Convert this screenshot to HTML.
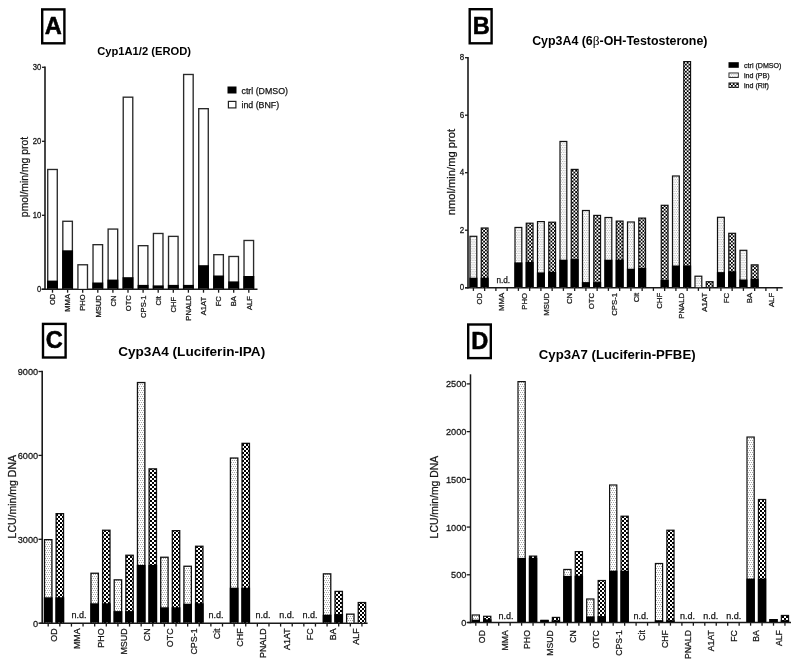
<!DOCTYPE html>
<html><head><meta charset="utf-8"><style>
html,body{margin:0;padding:0;background:#fff;width:800px;height:667px;overflow:hidden}
svg{display:block;will-change:transform}
text{font-family:"Liberation Sans",sans-serif}
text.r{stroke:#151515;stroke-width:0.25px}
</style></head><body>
<svg width="800" height="667" viewBox="0 0 800 667">
<rect width="800" height="667" fill="#fff"/>
<defs>
<pattern id="pb" patternUnits="userSpaceOnUse" width="1.77" height="3.54">
<rect width="1.77" height="3.54" fill="#fff"/><rect width="0.9" height="0.9" fill="#b0b0b0"/><rect x="0.88" y="1.77" width="0.9" height="0.9" fill="#b0b0b0"/>
</pattern>
<pattern id="rif" patternUnits="userSpaceOnUse" width="3.54" height="3.54">
<rect width="3.54" height="3.54" fill="#000"/>
<rect width="1.77" height="1.77" fill="#fff"/>
<rect x="1.77" y="1.77" width="1.77" height="1.77" fill="#fff"/>
</pattern>
<pattern id="pbc" patternUnits="userSpaceOnUse" width="2" height="4">
<rect width="2" height="4" fill="#fff"/><rect width="1" height="1" fill="#a8a8a8"/><rect x="1" y="2" width="1" height="1" fill="#a8a8a8"/>
</pattern>
<pattern id="rifc" patternUnits="userSpaceOnUse" width="4" height="4">
<rect width="4" height="4" fill="#000"/>
<rect width="2" height="2" fill="#fff"/>
<rect x="2" y="2" width="2" height="2" fill="#fff"/>
</pattern>
</defs>
<rect x="41" y="8.2" width="24.6" height="36.3" fill="#000"/>
<rect x="43.4" y="10.6" width="19.8" height="31.5" fill="#fff"/>
<text x="53.3" y="33.7" font-size="23.6" text-anchor="middle" font-weight="bold" fill="#000" stroke="#000" stroke-width="0.55" stroke-linejoin="round">A</text>
<text x="144.1" y="54.6" font-size="11.2" text-anchor="middle" font-weight="bold" fill="#000">Cyp1A1/2 (EROD)</text>
<line x1="45" y1="66.55" x2="45" y2="290.05" stroke="#1a1a1a" stroke-width="1.6"/>
<line x1="41.5" y1="289.3" x2="257.5" y2="289.3" stroke="#1a1a1a" stroke-width="1.6"/>
<line x1="42" y1="289.3" x2="45" y2="289.3" stroke="#1a1a1a" stroke-width="1.3"/>
<text transform="translate(41.2,292.2) scale(1,1.07)" font-size="7.7" text-anchor="end" font-weight="normal" fill="#151515" class="r">0</text>
<line x1="42" y1="215.3" x2="45" y2="215.3" stroke="#1a1a1a" stroke-width="1.3"/>
<text transform="translate(41.2,218.2) scale(1,1.07)" font-size="7.7" text-anchor="end" font-weight="normal" fill="#151515" class="r">10</text>
<line x1="42" y1="141.3" x2="45" y2="141.3" stroke="#1a1a1a" stroke-width="1.3"/>
<text transform="translate(41.2,144.2) scale(1,1.07)" font-size="7.7" text-anchor="end" font-weight="normal" fill="#151515" class="r">20</text>
<line x1="42" y1="67.3" x2="45" y2="67.3" stroke="#1a1a1a" stroke-width="1.3"/>
<text transform="translate(41.2,70.2) scale(1,1.07)" font-size="7.7" text-anchor="end" font-weight="normal" fill="#151515" class="r">30</text>
<text transform="translate(28.3,177) rotate(-90)" font-size="10.4" text-anchor="middle" font-weight="normal" fill="#151515" class="r">pmol/min/mg prot</text>
<rect x="47.05" y="168.8" width="10.9" height="120" fill="#2a2a2a"/>
<rect x="48.4" y="170.15" width="8.2" height="118.65" fill="#fff"/>
<rect x="47.05" y="280.6" width="10.9" height="8.2" fill="#000"/>
<line x1="52.5" y1="289.3" x2="52.5" y2="292.7" stroke="#1a1a1a" stroke-width="1.3"/>
<text transform="translate(55.2,293.65) rotate(-90)" font-size="7.6" text-anchor="end" font-weight="normal" fill="#151515" class="r">OD</text>
<rect x="62.15" y="220.6" width="10.9" height="68.2" fill="#2a2a2a"/>
<rect x="63.5" y="221.95" width="8.2" height="66.85" fill="#fff"/>
<rect x="62.15" y="250.3" width="10.9" height="38.5" fill="#000"/>
<line x1="67.6" y1="289.3" x2="67.6" y2="292.7" stroke="#1a1a1a" stroke-width="1.3"/>
<text transform="translate(70.3,294) rotate(-90)" font-size="7.6" text-anchor="end" font-weight="normal" fill="#151515" class="r">MMA</text>
<rect x="77.25" y="264.1" width="10.9" height="24.7" fill="#2a2a2a"/>
<rect x="78.6" y="265.45" width="8.2" height="23.35" fill="#fff"/>
<line x1="82.7" y1="289.3" x2="82.7" y2="292.7" stroke="#1a1a1a" stroke-width="1.3"/>
<text transform="translate(85.4,294.3) rotate(-90)" font-size="7.6" text-anchor="end" font-weight="normal" fill="#151515" class="r">PHO</text>
<rect x="92.35" y="244" width="10.9" height="44.8" fill="#2a2a2a"/>
<rect x="93.7" y="245.35" width="8.2" height="43.45" fill="#fff"/>
<rect x="92.35" y="282.5" width="10.9" height="6.3" fill="#000"/>
<line x1="97.8" y1="289.3" x2="97.8" y2="292.7" stroke="#1a1a1a" stroke-width="1.3"/>
<text transform="translate(100.5,295.2) rotate(-90)" font-size="7.6" text-anchor="end" font-weight="normal" fill="#151515" class="r">MSUD</text>
<rect x="107.45" y="228.4" width="10.9" height="60.4" fill="#2a2a2a"/>
<rect x="108.8" y="229.75" width="8.2" height="59.05" fill="#fff"/>
<rect x="107.45" y="279.6" width="10.9" height="9.2" fill="#000"/>
<line x1="112.9" y1="289.3" x2="112.9" y2="292.7" stroke="#1a1a1a" stroke-width="1.3"/>
<text transform="translate(115.6,295.5) rotate(-90)" font-size="7.6" text-anchor="end" font-weight="normal" fill="#151515" class="r">CN</text>
<rect x="122.55" y="96.5" width="10.9" height="192.3" fill="#2a2a2a"/>
<rect x="123.9" y="97.85" width="8.2" height="190.95" fill="#fff"/>
<rect x="122.55" y="277.2" width="10.9" height="11.6" fill="#000"/>
<line x1="128" y1="289.3" x2="128" y2="292.7" stroke="#1a1a1a" stroke-width="1.3"/>
<text transform="translate(130.7,295.2) rotate(-90)" font-size="7.6" text-anchor="end" font-weight="normal" fill="#151515" class="r">OTC</text>
<rect x="137.65" y="245" width="10.9" height="43.8" fill="#2a2a2a"/>
<rect x="139" y="246.35" width="8.2" height="42.45" fill="#fff"/>
<rect x="137.65" y="284.9" width="10.9" height="3.9" fill="#000"/>
<line x1="143.1" y1="289.3" x2="143.1" y2="292.7" stroke="#1a1a1a" stroke-width="1.3"/>
<text transform="translate(145.8,295.5) rotate(-90)" font-size="7.6" text-anchor="end" font-weight="normal" fill="#151515" class="r">CPS-1</text>
<rect x="152.75" y="232.8" width="10.9" height="56" fill="#2a2a2a"/>
<rect x="154.1" y="234.15" width="8.2" height="54.65" fill="#fff"/>
<rect x="152.75" y="285.4" width="10.9" height="3.4" fill="#000"/>
<line x1="158.2" y1="289.3" x2="158.2" y2="292.7" stroke="#1a1a1a" stroke-width="1.3"/>
<text transform="translate(160.9,296.15) rotate(-90)" font-size="7.6" text-anchor="end" font-weight="normal" fill="#151515" class="r">Cit</text>
<rect x="167.85" y="235.7" width="10.9" height="53.1" fill="#2a2a2a"/>
<rect x="169.2" y="237.05" width="8.2" height="51.75" fill="#fff"/>
<rect x="167.85" y="284.9" width="10.9" height="3.9" fill="#000"/>
<line x1="173.3" y1="289.3" x2="173.3" y2="292.7" stroke="#1a1a1a" stroke-width="1.3"/>
<text transform="translate(176,296.8) rotate(-90)" font-size="7.6" text-anchor="end" font-weight="normal" fill="#151515" class="r">CHF</text>
<rect x="182.95" y="73.8" width="10.9" height="215" fill="#2a2a2a"/>
<rect x="184.3" y="75.15" width="8.2" height="213.65" fill="#fff"/>
<rect x="182.95" y="284.9" width="10.9" height="3.9" fill="#000"/>
<line x1="188.4" y1="289.3" x2="188.4" y2="292.7" stroke="#1a1a1a" stroke-width="1.3"/>
<text transform="translate(191.1,295.3) rotate(-90)" font-size="7.6" text-anchor="end" font-weight="normal" fill="#151515" class="r">PNALD</text>
<rect x="198.05" y="108" width="10.9" height="180.8" fill="#2a2a2a"/>
<rect x="199.4" y="109.35" width="8.2" height="179.45" fill="#fff"/>
<rect x="198.05" y="265.2" width="10.9" height="23.6" fill="#000"/>
<line x1="203.5" y1="289.3" x2="203.5" y2="292.7" stroke="#1a1a1a" stroke-width="1.3"/>
<text transform="translate(206.2,296.8) rotate(-90)" font-size="7.6" text-anchor="end" font-weight="normal" fill="#151515" class="r">A1AT</text>
<rect x="213.15" y="254" width="10.9" height="34.8" fill="#2a2a2a"/>
<rect x="214.5" y="255.35" width="8.2" height="33.45" fill="#fff"/>
<rect x="213.15" y="275.5" width="10.9" height="13.3" fill="#000"/>
<line x1="218.6" y1="289.3" x2="218.6" y2="292.7" stroke="#1a1a1a" stroke-width="1.3"/>
<text transform="translate(221.3,296.15) rotate(-90)" font-size="7.6" text-anchor="end" font-weight="normal" fill="#151515" class="r">FC</text>
<rect x="228.25" y="255.8" width="10.9" height="33" fill="#2a2a2a"/>
<rect x="229.6" y="257.15" width="8.2" height="31.65" fill="#fff"/>
<rect x="228.25" y="281.4" width="10.9" height="7.4" fill="#000"/>
<line x1="233.7" y1="289.3" x2="233.7" y2="292.7" stroke="#1a1a1a" stroke-width="1.3"/>
<text transform="translate(236.4,296.15) rotate(-90)" font-size="7.6" text-anchor="end" font-weight="normal" fill="#151515" class="r">BA</text>
<rect x="243.35" y="239.8" width="10.9" height="49" fill="#2a2a2a"/>
<rect x="244.7" y="241.15" width="8.2" height="47.65" fill="#fff"/>
<rect x="243.35" y="276" width="10.9" height="12.8" fill="#000"/>
<line x1="248.8" y1="289.3" x2="248.8" y2="292.7" stroke="#1a1a1a" stroke-width="1.3"/>
<text transform="translate(251.5,296.15) rotate(-90)" font-size="7.6" text-anchor="end" font-weight="normal" fill="#151515" class="r">ALF</text>
<rect x="227.5" y="86.5" width="9" height="7" fill="#000"/>
<rect x="227.8" y="100.8" width="8.7" height="7.7" fill="#222"/>
<rect x="229" y="102" width="6.3" height="5.3" fill="#fff"/>
<text x="241.5" y="93.6" font-size="8.8" text-anchor="start" font-weight="normal" fill="#151515" class="r">ctrl (DMSO)</text>
<text x="241.5" y="108.2" font-size="8.8" text-anchor="start" font-weight="normal" fill="#151515" class="r">ind (BNF)</text>
<rect x="468.5" y="8" width="24.3" height="36.5" fill="#000"/>
<rect x="470.9" y="10.4" width="19.5" height="31.7" fill="#fff"/>
<text x="481.3" y="33.7" font-size="23.6" text-anchor="middle" font-weight="bold" fill="#000" stroke="#000" stroke-width="0.55" stroke-linejoin="round">B</text>
<text x="619.8" y="45.2" font-size="12.4" text-anchor="middle" font-weight="bold" fill="#000">Cyp3A4 (6<tspan font-weight="normal" font-family="Liberation Serif" font-size="13.4">&#946;</tspan>-OH-Testosterone)</text>
<line x1="468" y1="56.95" x2="468" y2="288.45" stroke="#1a1a1a" stroke-width="1.6"/>
<line x1="465" y1="287.7" x2="782.7" y2="287.7" stroke="#1a1a1a" stroke-width="1.6"/>
<line x1="465" y1="287.7" x2="468" y2="287.7" stroke="#1a1a1a" stroke-width="1.3"/>
<text transform="translate(464.3,290.4) scale(1,1.08)" font-size="8" text-anchor="end" font-weight="normal" fill="#151515" class="r">0</text>
<line x1="465" y1="230.2" x2="468" y2="230.2" stroke="#1a1a1a" stroke-width="1.3"/>
<text transform="translate(464.3,232.9) scale(1,1.08)" font-size="8" text-anchor="end" font-weight="normal" fill="#151515" class="r">2</text>
<line x1="465" y1="172.7" x2="468" y2="172.7" stroke="#1a1a1a" stroke-width="1.3"/>
<text transform="translate(464.3,175.4) scale(1,1.08)" font-size="8" text-anchor="end" font-weight="normal" fill="#151515" class="r">4</text>
<line x1="465" y1="115.2" x2="468" y2="115.2" stroke="#1a1a1a" stroke-width="1.3"/>
<text transform="translate(464.3,117.9) scale(1,1.08)" font-size="8" text-anchor="end" font-weight="normal" fill="#151515" class="r">6</text>
<line x1="465" y1="57.7" x2="468" y2="57.7" stroke="#1a1a1a" stroke-width="1.3"/>
<text transform="translate(464.3,60.4) scale(1,1.08)" font-size="8" text-anchor="end" font-weight="normal" fill="#151515" class="r">8</text>
<text transform="translate(455.2,172.1) rotate(-90)" font-size="11.2" text-anchor="middle" font-weight="normal" fill="#151515" class="r">nmol/min/mg prot</text>
<line x1="473.4" y1="287.7" x2="473.4" y2="290.9" stroke="#1a1a1a" stroke-width="1.3"/>
<rect x="469.4" y="235.7" width="8" height="51.5" fill="#111"/>
<rect x="470.6" y="236.9" width="5.6" height="50.3" fill="url(#pb)"/>
<rect x="469.4" y="277.7" width="8" height="9.5" fill="#000"/>
<line x1="484.65" y1="287.7" x2="484.65" y2="290.9" stroke="#1a1a1a" stroke-width="1.3"/>
<rect x="480.65" y="227.4" width="8" height="59.8" fill="#111"/>
<rect x="481.85" y="228.6" width="5.6" height="58.6" fill="url(#rif)"/>
<rect x="480.65" y="277.7" width="8" height="9.5" fill="#000"/>
<line x1="495.9" y1="287.7" x2="495.9" y2="290.9" stroke="#1a1a1a" stroke-width="1.3"/>
<line x1="507.15" y1="287.7" x2="507.15" y2="290.9" stroke="#1a1a1a" stroke-width="1.3"/>
<line x1="518.4" y1="287.7" x2="518.4" y2="290.9" stroke="#1a1a1a" stroke-width="1.3"/>
<rect x="514.4" y="226.85" width="8" height="60.35" fill="#111"/>
<rect x="515.6" y="228.05" width="5.6" height="59.15" fill="url(#pb)"/>
<rect x="514.4" y="262.4" width="8" height="24.8" fill="#000"/>
<line x1="529.65" y1="287.7" x2="529.65" y2="290.9" stroke="#1a1a1a" stroke-width="1.3"/>
<rect x="525.65" y="222.6" width="8" height="64.6" fill="#111"/>
<rect x="526.85" y="223.8" width="5.6" height="63.4" fill="url(#rif)"/>
<rect x="525.65" y="262" width="8" height="25.2" fill="#000"/>
<line x1="540.9" y1="287.7" x2="540.9" y2="290.9" stroke="#1a1a1a" stroke-width="1.3"/>
<rect x="536.9" y="221" width="8" height="66.2" fill="#111"/>
<rect x="538.1" y="222.2" width="5.6" height="65" fill="url(#pb)"/>
<rect x="536.9" y="272.4" width="8" height="14.8" fill="#000"/>
<line x1="552.15" y1="287.7" x2="552.15" y2="290.9" stroke="#1a1a1a" stroke-width="1.3"/>
<rect x="548.15" y="221.6" width="8" height="65.6" fill="#111"/>
<rect x="549.35" y="222.8" width="5.6" height="64.4" fill="url(#rif)"/>
<rect x="548.15" y="271.8" width="8" height="15.4" fill="#000"/>
<line x1="563.4" y1="287.7" x2="563.4" y2="290.9" stroke="#1a1a1a" stroke-width="1.3"/>
<rect x="559.4" y="140.85" width="8" height="146.35" fill="#111"/>
<rect x="560.6" y="142.05" width="5.6" height="145.15" fill="url(#pb)"/>
<rect x="559.4" y="259.7" width="8" height="27.5" fill="#000"/>
<line x1="574.65" y1="287.7" x2="574.65" y2="290.9" stroke="#1a1a1a" stroke-width="1.3"/>
<rect x="570.65" y="168.8" width="8" height="118.4" fill="#111"/>
<rect x="571.85" y="170" width="5.6" height="117.2" fill="url(#rif)"/>
<rect x="570.65" y="259.1" width="8" height="28.1" fill="#000"/>
<line x1="585.9" y1="287.7" x2="585.9" y2="290.9" stroke="#1a1a1a" stroke-width="1.3"/>
<rect x="581.9" y="209.9" width="8" height="77.3" fill="#111"/>
<rect x="583.1" y="211.1" width="5.6" height="76.1" fill="url(#pb)"/>
<rect x="581.9" y="282.1" width="8" height="5.1" fill="#000"/>
<line x1="597.15" y1="287.7" x2="597.15" y2="290.9" stroke="#1a1a1a" stroke-width="1.3"/>
<rect x="593.15" y="214.8" width="8" height="72.4" fill="#111"/>
<rect x="594.35" y="216" width="5.6" height="71.2" fill="url(#rif)"/>
<rect x="593.15" y="282.1" width="8" height="5.1" fill="#000"/>
<line x1="608.4" y1="287.7" x2="608.4" y2="290.9" stroke="#1a1a1a" stroke-width="1.3"/>
<rect x="604.4" y="216.9" width="8" height="70.3" fill="#111"/>
<rect x="605.6" y="218.1" width="5.6" height="69.1" fill="url(#pb)"/>
<rect x="604.4" y="259.7" width="8" height="27.5" fill="#000"/>
<line x1="619.65" y1="287.7" x2="619.65" y2="290.9" stroke="#1a1a1a" stroke-width="1.3"/>
<rect x="615.65" y="220.5" width="8" height="66.7" fill="#111"/>
<rect x="616.85" y="221.7" width="5.6" height="65.5" fill="url(#rif)"/>
<rect x="615.65" y="259.7" width="8" height="27.5" fill="#000"/>
<line x1="630.9" y1="287.7" x2="630.9" y2="290.9" stroke="#1a1a1a" stroke-width="1.3"/>
<rect x="626.9" y="221.4" width="8" height="65.8" fill="#111"/>
<rect x="628.1" y="222.6" width="5.6" height="64.6" fill="url(#pb)"/>
<rect x="626.9" y="268.7" width="8" height="18.5" fill="#000"/>
<line x1="642.15" y1="287.7" x2="642.15" y2="290.9" stroke="#1a1a1a" stroke-width="1.3"/>
<rect x="638.15" y="217.5" width="8" height="69.7" fill="#111"/>
<rect x="639.35" y="218.7" width="5.6" height="68.5" fill="url(#rif)"/>
<rect x="638.15" y="268" width="8" height="19.2" fill="#000"/>
<line x1="653.4" y1="287.7" x2="653.4" y2="290.9" stroke="#1a1a1a" stroke-width="1.3"/>
<line x1="664.65" y1="287.7" x2="664.65" y2="290.9" stroke="#1a1a1a" stroke-width="1.3"/>
<rect x="660.65" y="204.7" width="8" height="82.5" fill="#111"/>
<rect x="661.85" y="205.9" width="5.6" height="81.3" fill="url(#rif)"/>
<rect x="660.65" y="279.9" width="8" height="7.3" fill="#000"/>
<line x1="675.9" y1="287.7" x2="675.9" y2="290.9" stroke="#1a1a1a" stroke-width="1.3"/>
<rect x="671.9" y="175.4" width="8" height="111.8" fill="#111"/>
<rect x="673.1" y="176.6" width="5.6" height="110.6" fill="url(#pb)"/>
<rect x="671.9" y="265.5" width="8" height="21.7" fill="#000"/>
<line x1="687.15" y1="287.7" x2="687.15" y2="290.9" stroke="#1a1a1a" stroke-width="1.3"/>
<rect x="683.15" y="61" width="8" height="226.2" fill="#111"/>
<rect x="684.35" y="62.2" width="5.6" height="225" fill="url(#rif)"/>
<rect x="683.15" y="265.5" width="8" height="21.7" fill="#000"/>
<line x1="698.4" y1="287.7" x2="698.4" y2="290.9" stroke="#1a1a1a" stroke-width="1.3"/>
<rect x="694.4" y="275.6" width="8" height="11.6" fill="#111"/>
<rect x="695.6" y="276.8" width="5.6" height="10.4" fill="url(#pb)"/>
<line x1="709.65" y1="287.7" x2="709.65" y2="290.9" stroke="#1a1a1a" stroke-width="1.3"/>
<rect x="705.65" y="281.1" width="8" height="6.1" fill="#111"/>
<rect x="706.85" y="282.3" width="5.6" height="4.9" fill="url(#rif)"/>
<line x1="720.9" y1="287.7" x2="720.9" y2="290.9" stroke="#1a1a1a" stroke-width="1.3"/>
<rect x="716.9" y="216.7" width="8" height="70.5" fill="#111"/>
<rect x="718.1" y="217.9" width="5.6" height="69.3" fill="url(#pb)"/>
<rect x="716.9" y="272.1" width="8" height="15.1" fill="#000"/>
<line x1="732.15" y1="287.7" x2="732.15" y2="290.9" stroke="#1a1a1a" stroke-width="1.3"/>
<rect x="728.15" y="232.7" width="8" height="54.5" fill="#111"/>
<rect x="729.35" y="233.9" width="5.6" height="53.3" fill="url(#rif)"/>
<rect x="728.15" y="271.3" width="8" height="15.9" fill="#000"/>
<line x1="743.4" y1="287.7" x2="743.4" y2="290.9" stroke="#1a1a1a" stroke-width="1.3"/>
<rect x="739.4" y="249.7" width="8" height="37.5" fill="#111"/>
<rect x="740.6" y="250.9" width="5.6" height="36.3" fill="url(#pb)"/>
<rect x="739.4" y="279.5" width="8" height="7.7" fill="#000"/>
<line x1="754.65" y1="287.7" x2="754.65" y2="290.9" stroke="#1a1a1a" stroke-width="1.3"/>
<rect x="750.65" y="264.25" width="8" height="22.95" fill="#111"/>
<rect x="751.85" y="265.45" width="5.6" height="21.75" fill="url(#rif)"/>
<rect x="750.65" y="278.7" width="8" height="8.5" fill="#000"/>
<line x1="765.9" y1="287.7" x2="765.9" y2="290.9" stroke="#1a1a1a" stroke-width="1.3"/>
<line x1="777.15" y1="287.7" x2="777.15" y2="290.9" stroke="#1a1a1a" stroke-width="1.3"/>
<text transform="translate(481.92,292.8) rotate(-90)" font-size="7.8" text-anchor="end" font-weight="normal" fill="#151515" class="r">OD</text>
<text transform="translate(504.42,292.8) rotate(-90)" font-size="7.8" text-anchor="end" font-weight="normal" fill="#151515" class="r">MMA</text>
<text transform="translate(526.92,292.8) rotate(-90)" font-size="7.8" text-anchor="end" font-weight="normal" fill="#151515" class="r">PHO</text>
<text transform="translate(549.42,292.8) rotate(-90)" font-size="7.8" text-anchor="end" font-weight="normal" fill="#151515" class="r">MSUD</text>
<text transform="translate(571.92,292.8) rotate(-90)" font-size="7.8" text-anchor="end" font-weight="normal" fill="#151515" class="r">CN</text>
<text transform="translate(594.42,292.8) rotate(-90)" font-size="7.8" text-anchor="end" font-weight="normal" fill="#151515" class="r">OTC</text>
<text transform="translate(616.92,292.8) rotate(-90)" font-size="7.8" text-anchor="end" font-weight="normal" fill="#151515" class="r">CPS-1</text>
<text transform="translate(639.42,292.8) rotate(-90)" font-size="7.8" text-anchor="end" font-weight="normal" fill="#151515" class="r">Cit</text>
<text transform="translate(661.92,292.8) rotate(-90)" font-size="7.8" text-anchor="end" font-weight="normal" fill="#151515" class="r">CHF</text>
<text transform="translate(684.42,292.8) rotate(-90)" font-size="7.8" text-anchor="end" font-weight="normal" fill="#151515" class="r">PNALD</text>
<text transform="translate(706.92,292.8) rotate(-90)" font-size="7.8" text-anchor="end" font-weight="normal" fill="#151515" class="r">A1AT</text>
<text transform="translate(729.42,292.8) rotate(-90)" font-size="7.8" text-anchor="end" font-weight="normal" fill="#151515" class="r">FC</text>
<text transform="translate(751.92,292.8) rotate(-90)" font-size="7.8" text-anchor="end" font-weight="normal" fill="#151515" class="r">BA</text>
<text transform="translate(774.42,292.8) rotate(-90)" font-size="7.8" text-anchor="end" font-weight="normal" fill="#151515" class="r">ALF</text>
<text x="496.4" y="282.9" font-size="8.2" text-anchor="start" font-weight="normal" fill="#151515" class="r">n.d.</text>
<rect x="728.5" y="62.2" width="10.3" height="5.6" fill="#000"/>
<rect x="728.5" y="72.5" width="10.3" height="5.4" fill="#222"/>
<rect x="729.4" y="73.4" width="8.5" height="3.6" fill="url(#pb)"/>
<rect x="728.5" y="82.5" width="10.3" height="5.5" fill="#111"/>
<rect x="729.3" y="83.3" width="8.7" height="3.9" fill="url(#rif)"/>
<text x="744" y="67.6" font-size="7.1" text-anchor="start" font-weight="normal" fill="#151515" class="r">ctrl (DMSO)</text>
<text x="744" y="77.8" font-size="7.1" text-anchor="start" font-weight="normal" fill="#151515" class="r">ind (PB)</text>
<text x="744" y="88" font-size="7.1" text-anchor="start" font-weight="normal" fill="#151515" class="r">ind (Rif)</text>
<rect x="41.8" y="322.7" width="25" height="36" fill="#000"/>
<rect x="44.2" y="325.1" width="20.2" height="31.2" fill="#fff"/>
<text x="54.2" y="348.4" font-size="23.6" text-anchor="middle" font-weight="bold" fill="#000" stroke="#000" stroke-width="0.55" stroke-linejoin="round">C</text>
<text x="191.7" y="355.9" font-size="13.6" text-anchor="middle" font-weight="bold" fill="#000">Cyp3A4 (Luciferin-IPA)</text>
<line x1="42.2" y1="370.75" x2="42.2" y2="623.95" stroke="#1a1a1a" stroke-width="1.6"/>
<line x1="39.5" y1="623.2" x2="367.6" y2="623.2" stroke="#1a1a1a" stroke-width="1.6"/>
<line x1="38.5" y1="623.2" x2="42.2" y2="623.2" stroke="#1a1a1a" stroke-width="1.3"/>
<text transform="translate(38.2,626.7) scale(1,1.07)" font-size="9.2" text-anchor="end" font-weight="normal" fill="#151515" class="r">0</text>
<line x1="38.5" y1="539.3" x2="42.2" y2="539.3" stroke="#1a1a1a" stroke-width="1.3"/>
<text transform="translate(38.2,542.8) scale(1,1.07)" font-size="9.2" text-anchor="end" font-weight="normal" fill="#151515" class="r">3000</text>
<line x1="38.5" y1="455.4" x2="42.2" y2="455.4" stroke="#1a1a1a" stroke-width="1.3"/>
<text transform="translate(38.2,458.9) scale(1,1.07)" font-size="9.2" text-anchor="end" font-weight="normal" fill="#151515" class="r">6000</text>
<line x1="38.5" y1="371.5" x2="42.2" y2="371.5" stroke="#1a1a1a" stroke-width="1.3"/>
<text transform="translate(38.2,375) scale(1,1.07)" font-size="9.2" text-anchor="end" font-weight="normal" fill="#151515" class="r">9000</text>
<text transform="translate(15.9,496.7) rotate(-90)" font-size="10.5" text-anchor="middle" font-weight="normal" fill="#151515" class="r">LCU/min/mg DNA</text>
<line x1="48.2" y1="623.2" x2="48.2" y2="626.6" stroke="#1a1a1a" stroke-width="1.3"/>
<rect x="43.85" y="539" width="8.7" height="83.7" fill="#111"/>
<rect x="45.15" y="540.3" width="6.1" height="82.4" fill="url(#pbc)"/>
<rect x="43.85" y="597.3" width="8.7" height="25.4" fill="#000"/>
<line x1="59.82" y1="623.2" x2="59.82" y2="626.6" stroke="#1a1a1a" stroke-width="1.3"/>
<rect x="55.47" y="513" width="8.7" height="109.7" fill="#111"/>
<rect x="56.77" y="514.3" width="6.1" height="108.4" fill="url(#rifc)"/>
<rect x="55.47" y="597.3" width="8.7" height="25.4" fill="#000"/>
<line x1="71.44" y1="623.2" x2="71.44" y2="626.6" stroke="#1a1a1a" stroke-width="1.3"/>
<line x1="83.06" y1="623.2" x2="83.06" y2="626.6" stroke="#1a1a1a" stroke-width="1.3"/>
<line x1="94.68" y1="623.2" x2="94.68" y2="626.6" stroke="#1a1a1a" stroke-width="1.3"/>
<rect x="90.33" y="572.6" width="8.7" height="50.1" fill="#111"/>
<rect x="91.63" y="573.9" width="6.1" height="48.8" fill="url(#pbc)"/>
<rect x="90.33" y="603.3" width="8.7" height="19.4" fill="#000"/>
<line x1="106.3" y1="623.2" x2="106.3" y2="626.6" stroke="#1a1a1a" stroke-width="1.3"/>
<rect x="101.95" y="529.6" width="8.7" height="93.1" fill="#111"/>
<rect x="103.25" y="530.9" width="6.1" height="91.8" fill="url(#rifc)"/>
<rect x="101.95" y="603.3" width="8.7" height="19.4" fill="#000"/>
<line x1="117.92" y1="623.2" x2="117.92" y2="626.6" stroke="#1a1a1a" stroke-width="1.3"/>
<rect x="113.57" y="579.2" width="8.7" height="43.5" fill="#111"/>
<rect x="114.87" y="580.5" width="6.1" height="42.2" fill="url(#pbc)"/>
<rect x="113.57" y="611.1" width="8.7" height="11.6" fill="#000"/>
<line x1="129.54" y1="623.2" x2="129.54" y2="626.6" stroke="#1a1a1a" stroke-width="1.3"/>
<rect x="125.19" y="554.6" width="8.7" height="68.1" fill="#111"/>
<rect x="126.49" y="555.9" width="6.1" height="66.8" fill="url(#rifc)"/>
<rect x="125.19" y="611.1" width="8.7" height="11.6" fill="#000"/>
<line x1="141.16" y1="623.2" x2="141.16" y2="626.6" stroke="#1a1a1a" stroke-width="1.3"/>
<rect x="136.81" y="381.9" width="8.7" height="240.8" fill="#111"/>
<rect x="138.11" y="383.2" width="6.1" height="239.5" fill="url(#pbc)"/>
<rect x="136.81" y="564.9" width="8.7" height="57.8" fill="#000"/>
<line x1="152.78" y1="623.2" x2="152.78" y2="626.6" stroke="#1a1a1a" stroke-width="1.3"/>
<rect x="148.43" y="468.2" width="8.7" height="154.5" fill="#111"/>
<rect x="149.73" y="469.5" width="6.1" height="153.2" fill="url(#rifc)"/>
<rect x="148.43" y="564.9" width="8.7" height="57.8" fill="#000"/>
<line x1="164.4" y1="623.2" x2="164.4" y2="626.6" stroke="#1a1a1a" stroke-width="1.3"/>
<rect x="160.05" y="556.6" width="8.7" height="66.1" fill="#111"/>
<rect x="161.35" y="557.9" width="6.1" height="64.8" fill="url(#pbc)"/>
<rect x="160.05" y="607.3" width="8.7" height="15.4" fill="#000"/>
<line x1="176.02" y1="623.2" x2="176.02" y2="626.6" stroke="#1a1a1a" stroke-width="1.3"/>
<rect x="171.67" y="530" width="8.7" height="92.7" fill="#111"/>
<rect x="172.97" y="531.3" width="6.1" height="91.4" fill="url(#rifc)"/>
<rect x="171.67" y="607.3" width="8.7" height="15.4" fill="#000"/>
<line x1="187.64" y1="623.2" x2="187.64" y2="626.6" stroke="#1a1a1a" stroke-width="1.3"/>
<rect x="183.29" y="565.6" width="8.7" height="57.1" fill="#111"/>
<rect x="184.59" y="566.9" width="6.1" height="55.8" fill="url(#pbc)"/>
<rect x="183.29" y="603.7" width="8.7" height="19" fill="#000"/>
<line x1="199.26" y1="623.2" x2="199.26" y2="626.6" stroke="#1a1a1a" stroke-width="1.3"/>
<rect x="194.91" y="545.6" width="8.7" height="77.1" fill="#111"/>
<rect x="196.21" y="546.9" width="6.1" height="75.8" fill="url(#rifc)"/>
<rect x="194.91" y="603.3" width="8.7" height="19.4" fill="#000"/>
<line x1="210.88" y1="623.2" x2="210.88" y2="626.6" stroke="#1a1a1a" stroke-width="1.3"/>
<line x1="222.5" y1="623.2" x2="222.5" y2="626.6" stroke="#1a1a1a" stroke-width="1.3"/>
<line x1="234.12" y1="623.2" x2="234.12" y2="626.6" stroke="#1a1a1a" stroke-width="1.3"/>
<rect x="229.77" y="457.4" width="8.7" height="165.3" fill="#111"/>
<rect x="231.07" y="458.7" width="6.1" height="164" fill="url(#pbc)"/>
<rect x="229.77" y="587.7" width="8.7" height="35" fill="#000"/>
<line x1="245.74" y1="623.2" x2="245.74" y2="626.6" stroke="#1a1a1a" stroke-width="1.3"/>
<rect x="241.39" y="442.7" width="8.7" height="180" fill="#111"/>
<rect x="242.69" y="444" width="6.1" height="178.7" fill="url(#rifc)"/>
<rect x="241.39" y="587.7" width="8.7" height="35" fill="#000"/>
<line x1="257.36" y1="623.2" x2="257.36" y2="626.6" stroke="#1a1a1a" stroke-width="1.3"/>
<line x1="268.98" y1="623.2" x2="268.98" y2="626.6" stroke="#1a1a1a" stroke-width="1.3"/>
<line x1="280.6" y1="623.2" x2="280.6" y2="626.6" stroke="#1a1a1a" stroke-width="1.3"/>
<line x1="292.22" y1="623.2" x2="292.22" y2="626.6" stroke="#1a1a1a" stroke-width="1.3"/>
<line x1="303.84" y1="623.2" x2="303.84" y2="626.6" stroke="#1a1a1a" stroke-width="1.3"/>
<line x1="315.46" y1="623.2" x2="315.46" y2="626.6" stroke="#1a1a1a" stroke-width="1.3"/>
<line x1="327.08" y1="623.2" x2="327.08" y2="626.6" stroke="#1a1a1a" stroke-width="1.3"/>
<rect x="322.73" y="573.2" width="8.7" height="49.5" fill="#111"/>
<rect x="324.03" y="574.5" width="6.1" height="48.2" fill="url(#pbc)"/>
<rect x="322.73" y="614.7" width="8.7" height="8" fill="#000"/>
<line x1="338.7" y1="623.2" x2="338.7" y2="626.6" stroke="#1a1a1a" stroke-width="1.3"/>
<rect x="334.35" y="590.75" width="8.7" height="31.95" fill="#111"/>
<rect x="335.65" y="592.05" width="6.1" height="30.65" fill="url(#rifc)"/>
<rect x="334.35" y="614.1" width="8.7" height="8.6" fill="#000"/>
<line x1="350.32" y1="623.2" x2="350.32" y2="626.6" stroke="#1a1a1a" stroke-width="1.3"/>
<rect x="345.97" y="613.5" width="8.7" height="9.2" fill="#111"/>
<rect x="347.27" y="614.8" width="6.1" height="7.9" fill="url(#pbc)"/>
<line x1="361.94" y1="623.2" x2="361.94" y2="626.6" stroke="#1a1a1a" stroke-width="1.3"/>
<rect x="357.59" y="601.9" width="8.7" height="20.8" fill="#111"/>
<rect x="358.89" y="603.2" width="6.1" height="19.5" fill="url(#rifc)"/>
<text transform="translate(57.21,628.4) rotate(-90)" font-size="8.9" text-anchor="end" font-weight="normal" fill="#151515" class="r">OD</text>
<text transform="translate(80.45,628.4) rotate(-90)" font-size="8.9" text-anchor="end" font-weight="normal" fill="#151515" class="r">MMA</text>
<text transform="translate(103.69,628.4) rotate(-90)" font-size="8.9" text-anchor="end" font-weight="normal" fill="#151515" class="r">PHO</text>
<text transform="translate(126.93,628.4) rotate(-90)" font-size="8.9" text-anchor="end" font-weight="normal" fill="#151515" class="r">MSUD</text>
<text transform="translate(150.17,628.4) rotate(-90)" font-size="8.9" text-anchor="end" font-weight="normal" fill="#151515" class="r">CN</text>
<text transform="translate(173.41,628.4) rotate(-90)" font-size="8.9" text-anchor="end" font-weight="normal" fill="#151515" class="r">OTC</text>
<text transform="translate(196.65,628.4) rotate(-90)" font-size="8.9" text-anchor="end" font-weight="normal" fill="#151515" class="r">CPS-1</text>
<text transform="translate(219.89,628.4) rotate(-90)" font-size="8.9" text-anchor="end" font-weight="normal" fill="#151515" class="r">Cit</text>
<text transform="translate(243.13,628.4) rotate(-90)" font-size="8.9" text-anchor="end" font-weight="normal" fill="#151515" class="r">CHF</text>
<text transform="translate(266.37,628.4) rotate(-90)" font-size="8.9" text-anchor="end" font-weight="normal" fill="#151515" class="r">PNALD</text>
<text transform="translate(289.61,628.4) rotate(-90)" font-size="8.9" text-anchor="end" font-weight="normal" fill="#151515" class="r">A1AT</text>
<text transform="translate(312.85,628.4) rotate(-90)" font-size="8.9" text-anchor="end" font-weight="normal" fill="#151515" class="r">FC</text>
<text transform="translate(336.09,628.4) rotate(-90)" font-size="8.9" text-anchor="end" font-weight="normal" fill="#151515" class="r">BA</text>
<text transform="translate(359.33,628.4) rotate(-90)" font-size="8.9" text-anchor="end" font-weight="normal" fill="#151515" class="r">ALF</text>
<text x="71.6" y="617.7" font-size="9" text-anchor="start" font-weight="normal" fill="#151515" class="r">n.d.</text>
<text x="208.4" y="617.7" font-size="9" text-anchor="start" font-weight="normal" fill="#151515" class="r">n.d.</text>
<text x="255.4" y="617.7" font-size="9" text-anchor="start" font-weight="normal" fill="#151515" class="r">n.d.</text>
<text x="279.15" y="617.7" font-size="9" text-anchor="start" font-weight="normal" fill="#151515" class="r">n.d.</text>
<text x="302.4" y="617.7" font-size="9" text-anchor="start" font-weight="normal" fill="#151515" class="r">n.d.</text>
<rect x="467" y="323.3" width="25" height="36" fill="#000"/>
<rect x="469.4" y="325.7" width="20.2" height="31.2" fill="#fff"/>
<text x="479.8" y="348.9" font-size="23.6" text-anchor="middle" font-weight="bold" fill="#000" stroke="#000" stroke-width="0.55" stroke-linejoin="round">D</text>
<text x="617.2" y="359.1" font-size="13.2" text-anchor="middle" font-weight="bold" fill="#000">Cyp3A7 (Luciferin-PFBE)</text>
<line x1="470.5" y1="374.3" x2="470.5" y2="623.25" stroke="#1a1a1a" stroke-width="1.5"/>
<line x1="467.5" y1="622.5" x2="791" y2="622.5" stroke="#1a1a1a" stroke-width="1.6"/>
<line x1="466.7" y1="622.5" x2="470.5" y2="622.5" stroke="#1a1a1a" stroke-width="1.3"/>
<text transform="translate(466.4,626) scale(1,1.07)" font-size="9.2" text-anchor="end" font-weight="normal" fill="#151515" class="r">0</text>
<line x1="466.7" y1="574.78" x2="470.5" y2="574.78" stroke="#1a1a1a" stroke-width="1.3"/>
<text transform="translate(466.4,578.28) scale(1,1.07)" font-size="9.2" text-anchor="end" font-weight="normal" fill="#151515" class="r">500</text>
<line x1="466.7" y1="527.06" x2="470.5" y2="527.06" stroke="#1a1a1a" stroke-width="1.3"/>
<text transform="translate(466.4,530.56) scale(1,1.07)" font-size="9.2" text-anchor="end" font-weight="normal" fill="#151515" class="r">1000</text>
<line x1="466.7" y1="479.34" x2="470.5" y2="479.34" stroke="#1a1a1a" stroke-width="1.3"/>
<text transform="translate(466.4,482.84) scale(1,1.07)" font-size="9.2" text-anchor="end" font-weight="normal" fill="#151515" class="r">1500</text>
<line x1="466.7" y1="431.62" x2="470.5" y2="431.62" stroke="#1a1a1a" stroke-width="1.3"/>
<text transform="translate(466.4,435.12) scale(1,1.07)" font-size="9.2" text-anchor="end" font-weight="normal" fill="#151515" class="r">2000</text>
<line x1="466.7" y1="383.9" x2="470.5" y2="383.9" stroke="#1a1a1a" stroke-width="1.3"/>
<text transform="translate(466.4,387.4) scale(1,1.07)" font-size="9.2" text-anchor="end" font-weight="normal" fill="#151515" class="r">2500</text>
<text transform="translate(438,497.1) rotate(-90)" font-size="10.4" text-anchor="middle" font-weight="normal" fill="#151515" class="r">LCU/min/mg DNA</text>
<line x1="475.8" y1="622.5" x2="475.8" y2="625.7" stroke="#1a1a1a" stroke-width="1.3"/>
<rect x="471.6" y="614.4" width="8.4" height="7.6" fill="#111"/>
<rect x="472.8" y="615.6" width="6" height="6.4" fill="url(#pbc)"/>
<rect x="471.6" y="619.7" width="8.4" height="2.3" fill="#000"/>
<line x1="487.25" y1="622.5" x2="487.25" y2="625.7" stroke="#1a1a1a" stroke-width="1.3"/>
<rect x="483.05" y="615.7" width="8.4" height="6.3" fill="#111"/>
<rect x="484.25" y="616.9" width="6" height="5.1" fill="url(#rifc)"/>
<rect x="483.05" y="619.3" width="8.4" height="2.7" fill="#000"/>
<line x1="498.7" y1="622.5" x2="498.7" y2="625.7" stroke="#1a1a1a" stroke-width="1.3"/>
<line x1="510.15" y1="622.5" x2="510.15" y2="625.7" stroke="#1a1a1a" stroke-width="1.3"/>
<line x1="521.6" y1="622.5" x2="521.6" y2="625.7" stroke="#1a1a1a" stroke-width="1.3"/>
<rect x="517.4" y="381" width="8.4" height="241" fill="#111"/>
<rect x="518.6" y="382.2" width="6" height="239.8" fill="url(#pbc)"/>
<rect x="517.4" y="557.9" width="8.4" height="64.1" fill="#000"/>
<line x1="533.05" y1="622.5" x2="533.05" y2="625.7" stroke="#1a1a1a" stroke-width="1.3"/>
<rect x="528.85" y="555.5" width="8.4" height="66.5" fill="#111"/>
<rect x="530.05" y="556.7" width="6" height="65.3" fill="url(#rifc)"/>
<rect x="528.85" y="557.9" width="8.4" height="64.1" fill="#000"/>
<line x1="544.5" y1="622.5" x2="544.5" y2="625.7" stroke="#1a1a1a" stroke-width="1.3"/>
<rect x="540.3" y="619.8" width="8.4" height="2.2" fill="#111"/>
<rect x="540.3" y="619.9" width="8.4" height="2.1" fill="#000"/>
<line x1="555.95" y1="622.5" x2="555.95" y2="625.7" stroke="#1a1a1a" stroke-width="1.3"/>
<rect x="551.75" y="616.8" width="8.4" height="5.2" fill="#111"/>
<rect x="552.95" y="618" width="6" height="4" fill="url(#rifc)"/>
<rect x="551.75" y="620.2" width="8.4" height="1.8" fill="#000"/>
<line x1="567.4" y1="622.5" x2="567.4" y2="625.7" stroke="#1a1a1a" stroke-width="1.3"/>
<rect x="563.2" y="568.85" width="8.4" height="53.15" fill="#111"/>
<rect x="564.4" y="570.05" width="6" height="51.95" fill="url(#pbc)"/>
<rect x="563.2" y="575.9" width="8.4" height="46.1" fill="#000"/>
<line x1="578.85" y1="622.5" x2="578.85" y2="625.7" stroke="#1a1a1a" stroke-width="1.3"/>
<rect x="574.65" y="551" width="8.4" height="71" fill="#111"/>
<rect x="575.85" y="552.2" width="6" height="69.8" fill="url(#rifc)"/>
<rect x="574.65" y="575.7" width="8.4" height="46.3" fill="#000"/>
<line x1="590.3" y1="622.5" x2="590.3" y2="625.7" stroke="#1a1a1a" stroke-width="1.3"/>
<rect x="586.1" y="598.4" width="8.4" height="23.6" fill="#111"/>
<rect x="587.3" y="599.6" width="6" height="22.4" fill="url(#pbc)"/>
<rect x="586.1" y="616.4" width="8.4" height="5.6" fill="#000"/>
<line x1="601.75" y1="622.5" x2="601.75" y2="625.7" stroke="#1a1a1a" stroke-width="1.3"/>
<rect x="597.55" y="579.9" width="8.4" height="42.1" fill="#111"/>
<rect x="598.75" y="581.1" width="6" height="40.9" fill="url(#rifc)"/>
<rect x="597.55" y="616.1" width="8.4" height="5.9" fill="#000"/>
<line x1="613.2" y1="622.5" x2="613.2" y2="625.7" stroke="#1a1a1a" stroke-width="1.3"/>
<rect x="609" y="484.4" width="8.4" height="137.6" fill="#111"/>
<rect x="610.2" y="485.6" width="6" height="136.4" fill="url(#pbc)"/>
<rect x="609" y="570.7" width="8.4" height="51.3" fill="#000"/>
<line x1="624.65" y1="622.5" x2="624.65" y2="625.7" stroke="#1a1a1a" stroke-width="1.3"/>
<rect x="620.45" y="515.6" width="8.4" height="106.4" fill="#111"/>
<rect x="621.65" y="516.8" width="6" height="105.2" fill="url(#rifc)"/>
<rect x="620.45" y="570.7" width="8.4" height="51.3" fill="#000"/>
<line x1="636.1" y1="622.5" x2="636.1" y2="625.7" stroke="#1a1a1a" stroke-width="1.3"/>
<line x1="647.55" y1="622.5" x2="647.55" y2="625.7" stroke="#1a1a1a" stroke-width="1.3"/>
<line x1="659" y1="622.5" x2="659" y2="625.7" stroke="#1a1a1a" stroke-width="1.3"/>
<rect x="654.8" y="562.9" width="8.4" height="59.1" fill="#111"/>
<rect x="656" y="564.1" width="6" height="57.9" fill="url(#pbc)"/>
<rect x="654.8" y="620.2" width="8.4" height="1.8" fill="#000"/>
<line x1="670.45" y1="622.5" x2="670.45" y2="625.7" stroke="#1a1a1a" stroke-width="1.3"/>
<rect x="666.25" y="529.6" width="8.4" height="92.4" fill="#111"/>
<rect x="667.45" y="530.8" width="6" height="91.2" fill="url(#rifc)"/>
<rect x="666.25" y="620.2" width="8.4" height="1.8" fill="#000"/>
<line x1="681.9" y1="622.5" x2="681.9" y2="625.7" stroke="#1a1a1a" stroke-width="1.3"/>
<line x1="693.35" y1="622.5" x2="693.35" y2="625.7" stroke="#1a1a1a" stroke-width="1.3"/>
<line x1="704.8" y1="622.5" x2="704.8" y2="625.7" stroke="#1a1a1a" stroke-width="1.3"/>
<line x1="716.25" y1="622.5" x2="716.25" y2="625.7" stroke="#1a1a1a" stroke-width="1.3"/>
<line x1="727.7" y1="622.5" x2="727.7" y2="625.7" stroke="#1a1a1a" stroke-width="1.3"/>
<line x1="739.15" y1="622.5" x2="739.15" y2="625.7" stroke="#1a1a1a" stroke-width="1.3"/>
<line x1="750.6" y1="622.5" x2="750.6" y2="625.7" stroke="#1a1a1a" stroke-width="1.3"/>
<rect x="746.4" y="436.45" width="8.4" height="185.55" fill="#111"/>
<rect x="747.6" y="437.65" width="6" height="184.35" fill="url(#pbc)"/>
<rect x="746.4" y="578.6" width="8.4" height="43.4" fill="#000"/>
<line x1="762.05" y1="622.5" x2="762.05" y2="625.7" stroke="#1a1a1a" stroke-width="1.3"/>
<rect x="757.85" y="498.9" width="8.4" height="123.1" fill="#111"/>
<rect x="759.05" y="500.1" width="6" height="121.9" fill="url(#rifc)"/>
<rect x="757.85" y="578.6" width="8.4" height="43.4" fill="#000"/>
<line x1="773.5" y1="622.5" x2="773.5" y2="625.7" stroke="#1a1a1a" stroke-width="1.3"/>
<rect x="769.3" y="619" width="8.4" height="3" fill="#111"/>
<rect x="770.5" y="620.2" width="6" height="1.8" fill="url(#pbc)"/>
<rect x="769.3" y="619.1" width="8.4" height="2.9" fill="#000"/>
<line x1="784.95" y1="622.5" x2="784.95" y2="625.7" stroke="#1a1a1a" stroke-width="1.3"/>
<rect x="780.75" y="614.85" width="8.4" height="7.15" fill="#111"/>
<rect x="781.95" y="616.05" width="6" height="5.95" fill="url(#rifc)"/>
<rect x="780.75" y="620.2" width="8.4" height="1.8" fill="#000"/>
<text transform="translate(484.63,630.1) rotate(-90)" font-size="8.7" text-anchor="end" font-weight="normal" fill="#151515" class="r">OD</text>
<text transform="translate(507.53,630.1) rotate(-90)" font-size="8.7" text-anchor="end" font-weight="normal" fill="#151515" class="r">MMA</text>
<text transform="translate(530.43,630.1) rotate(-90)" font-size="8.7" text-anchor="end" font-weight="normal" fill="#151515" class="r">PHO</text>
<text transform="translate(553.33,630.1) rotate(-90)" font-size="8.7" text-anchor="end" font-weight="normal" fill="#151515" class="r">MSUD</text>
<text transform="translate(576.23,630.1) rotate(-90)" font-size="8.7" text-anchor="end" font-weight="normal" fill="#151515" class="r">CN</text>
<text transform="translate(599.12,630.1) rotate(-90)" font-size="8.7" text-anchor="end" font-weight="normal" fill="#151515" class="r">OTC</text>
<text transform="translate(622.02,630.1) rotate(-90)" font-size="8.7" text-anchor="end" font-weight="normal" fill="#151515" class="r">CPS-1</text>
<text transform="translate(644.93,630.1) rotate(-90)" font-size="8.7" text-anchor="end" font-weight="normal" fill="#151515" class="r">Cit</text>
<text transform="translate(667.83,630.1) rotate(-90)" font-size="8.7" text-anchor="end" font-weight="normal" fill="#151515" class="r">CHF</text>
<text transform="translate(690.73,630.1) rotate(-90)" font-size="8.7" text-anchor="end" font-weight="normal" fill="#151515" class="r">PNALD</text>
<text transform="translate(713.62,630.1) rotate(-90)" font-size="8.7" text-anchor="end" font-weight="normal" fill="#151515" class="r">A1AT</text>
<text transform="translate(736.52,630.1) rotate(-90)" font-size="8.7" text-anchor="end" font-weight="normal" fill="#151515" class="r">FC</text>
<text transform="translate(759.43,630.1) rotate(-90)" font-size="8.7" text-anchor="end" font-weight="normal" fill="#151515" class="r">BA</text>
<text transform="translate(782.32,630.1) rotate(-90)" font-size="8.7" text-anchor="end" font-weight="normal" fill="#151515" class="r">ALF</text>
<text x="498.6" y="618.6" font-size="9" text-anchor="start" font-weight="normal" fill="#151515" class="r">n.d.</text>
<text x="633.4" y="618.6" font-size="9" text-anchor="start" font-weight="normal" fill="#151515" class="r">n.d.</text>
<text x="680" y="618.6" font-size="9" text-anchor="start" font-weight="normal" fill="#151515" class="r">n.d.</text>
<text x="703.15" y="618.6" font-size="9" text-anchor="start" font-weight="normal" fill="#151515" class="r">n.d.</text>
<text x="726.3" y="618.6" font-size="9" text-anchor="start" font-weight="normal" fill="#151515" class="r">n.d.</text>
</svg>
</body></html>
